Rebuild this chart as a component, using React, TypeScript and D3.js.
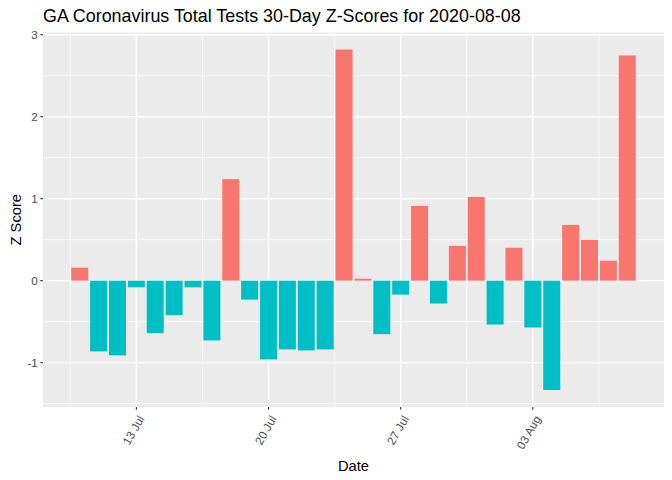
import { useEffect, useRef } from 'react'
import * as d3 from 'd3'

// 2020-07-10 .. 2020-08-08, one bar per day
const startDay = '2020-07-10'
const zScores = [
  0.158, -0.863, -0.911, -0.081, -0.640, -0.421, -0.081, -0.729, 1.239, -0.231,
  -0.960, -0.838, -0.851, -0.838, 2.819, 0.024, -0.652, -0.170, 0.911, -0.279,
  0.425, 1.021, -0.535, 0.401, -0.571, -1.333, 0.680, 0.498, 0.243, 2.746,
]
const xTickDays = ['2020-07-13', '2020-07-20', '2020-07-27', '2020-08-03']
const xMinorDays = ['2020-07-09T12:00', '2020-07-16T12:00', '2020-07-23T12:00', '2020-07-30T12:00', '2020-08-06T12:00']
const yTicks = [-1, 0, 1, 2, 3]
const yMinor = [-1.5, -0.5, 0.5, 1.5, 2.5]

const title = 'GA Coronavirus Total Tests 30-Day Z-Scores for 2020-08-08'
const W = 672, H = 480
const DAY = 864e5
const FONT = '"Liberation Sans", Arial, sans-serif'

const parse = (s: string) => new Date(s.length > 10 ? s + 'Z' : s + 'T00:00Z')

export default function App() {
  const ref = useRef<SVGSVGElement>(null)

  useEffect(() => {
    const svg = d3.select(ref.current)
    svg.selectAll('*').remove()

    const t0 = parse(startDay).getTime()
    const rows = zScores.map((v, i) => ({ t: new Date(t0 + i * DAY), v }))

    const margin = { top: 32.5, right: 8, bottom: 73, left: 43 }
    const iw = W - margin.left - margin.right
    const ih = H - margin.top - margin.bottom

    // ggplot-style 5% expansion
    const xLo = t0 - 0.45 * DAY, xHi = t0 + (rows.length - 1) * DAY + 0.45 * DAY
    const xPad = (xHi - xLo) * 0.05
    const x = d3.scaleUtc().domain([new Date(xLo - xPad), new Date(xHi + xPad)]).range([0, iw])
    const vMin = d3.min(zScores)!, vMax = d3.max(zScores)!
    const yPad = (vMax - vMin) * 0.05
    const y = d3.scaleLinear().domain([vMin - yPad, vMax + yPad]).range([ih, 0])

    const g = svg.append('g').attr('transform', `translate(${margin.left},${margin.top})`)

    g.append('rect').attr('width', iw).attr('height', ih).attr('fill', '#EBEBEB')

    // grid
    yMinor.forEach(v => g.append('line').attr('x1', 0).attr('x2', iw).attr('y1', y(v)).attr('y2', y(v))
      .attr('stroke', '#fff').attr('stroke-width', 0.7))
    xMinorDays.forEach(d => g.append('line').attr('y1', 0).attr('y2', ih).attr('x1', x(parse(d))).attr('x2', x(parse(d)))
      .attr('stroke', '#fff').attr('stroke-width', 0.7))
    yTicks.forEach(v => g.append('line').attr('x1', 0).attr('x2', iw).attr('y1', y(v)).attr('y2', y(v))
      .attr('stroke', '#fff').attr('stroke-width', 1.4))
    xTickDays.forEach(d => g.append('line').attr('y1', 0).attr('y2', ih).attr('x1', x(parse(d))).attr('x2', x(parse(d)))
      .attr('stroke', '#fff').attr('stroke-width', 1.4))

    // bars
    const bw = x(new Date(t0 + 0.9 * DAY)) - x(new Date(t0))
    g.selectAll('rect.bar').data(rows).enter().append('rect')
      .attr('class', 'bar')
      .attr('x', d => x(d.t) - bw / 2)
      .attr('width', bw)
      .attr('y', d => y(Math.max(0, d.v)))
      .attr('height', d => Math.abs(y(d.v) - y(0)))
      .attr('fill', d => d.v > 0 ? '#F8766D' : '#00BFC4')

    // y axis
    yTicks.forEach(v => {
      g.append('line').attr('x1', -2.75).attr('x2', 0).attr('y1', y(v)).attr('y2', y(v))
        .attr('stroke', '#333').attr('stroke-width', 1.07)
      g.append('text').attr('x', -5.2).attr('y', y(v)).attr('dy', '0.35em')
        .attr('text-anchor', 'end').attr('fill', '#4D4D4D')
        .attr('font-size', 11.7).attr('font-family', FONT).text(v)
    })

    // x axis
    const fmt = d3.utcFormat('%d %b')
    xTickDays.forEach(d => {
      const px = x(parse(d))
      g.append('line').attr('x1', px).attr('x2', px).attr('y1', ih).attr('y2', ih + 2.75)
        .attr('stroke', '#333').attr('stroke-width', 1.07)
      g.append('text')
        .attr('transform', `translate(${px + 1.2},${ih + 7.5}) rotate(-60)`)
        .attr('dy', '0.72em')
        .attr('text-anchor', 'end').attr('fill', '#4D4D4D')
        .attr('font-size', 11.7).attr('font-family', FONT).text(fmt(parse(d)))
    })

    // titles
    svg.append('text').attr('x', margin.left + iw / 2).attr('y', 470.5)
      .attr('text-anchor', 'middle').attr('font-size', 14.7).attr('font-family', FONT)
      .attr('fill', '#000').text('Date')
    svg.append('text').attr('transform', `translate(20.5,${margin.top + ih / 2}) rotate(-90)`)
      .attr('text-anchor', 'middle').attr('font-size', 14.7).attr('font-family', FONT)
      .attr('fill', '#000').text('Z Score')
    svg.append('text').attr('x', margin.left).attr('y', 21.7)
      .attr('font-size', 17.9).attr('font-family', FONT)
      .attr('fill', '#000').text(title)
  }, [])

  return (
    <svg ref={ref} width={W} height={H}
      style={{ position: 'absolute', left: 0, top: 0, display: 'block', background: '#fff' }} />
  )
}
